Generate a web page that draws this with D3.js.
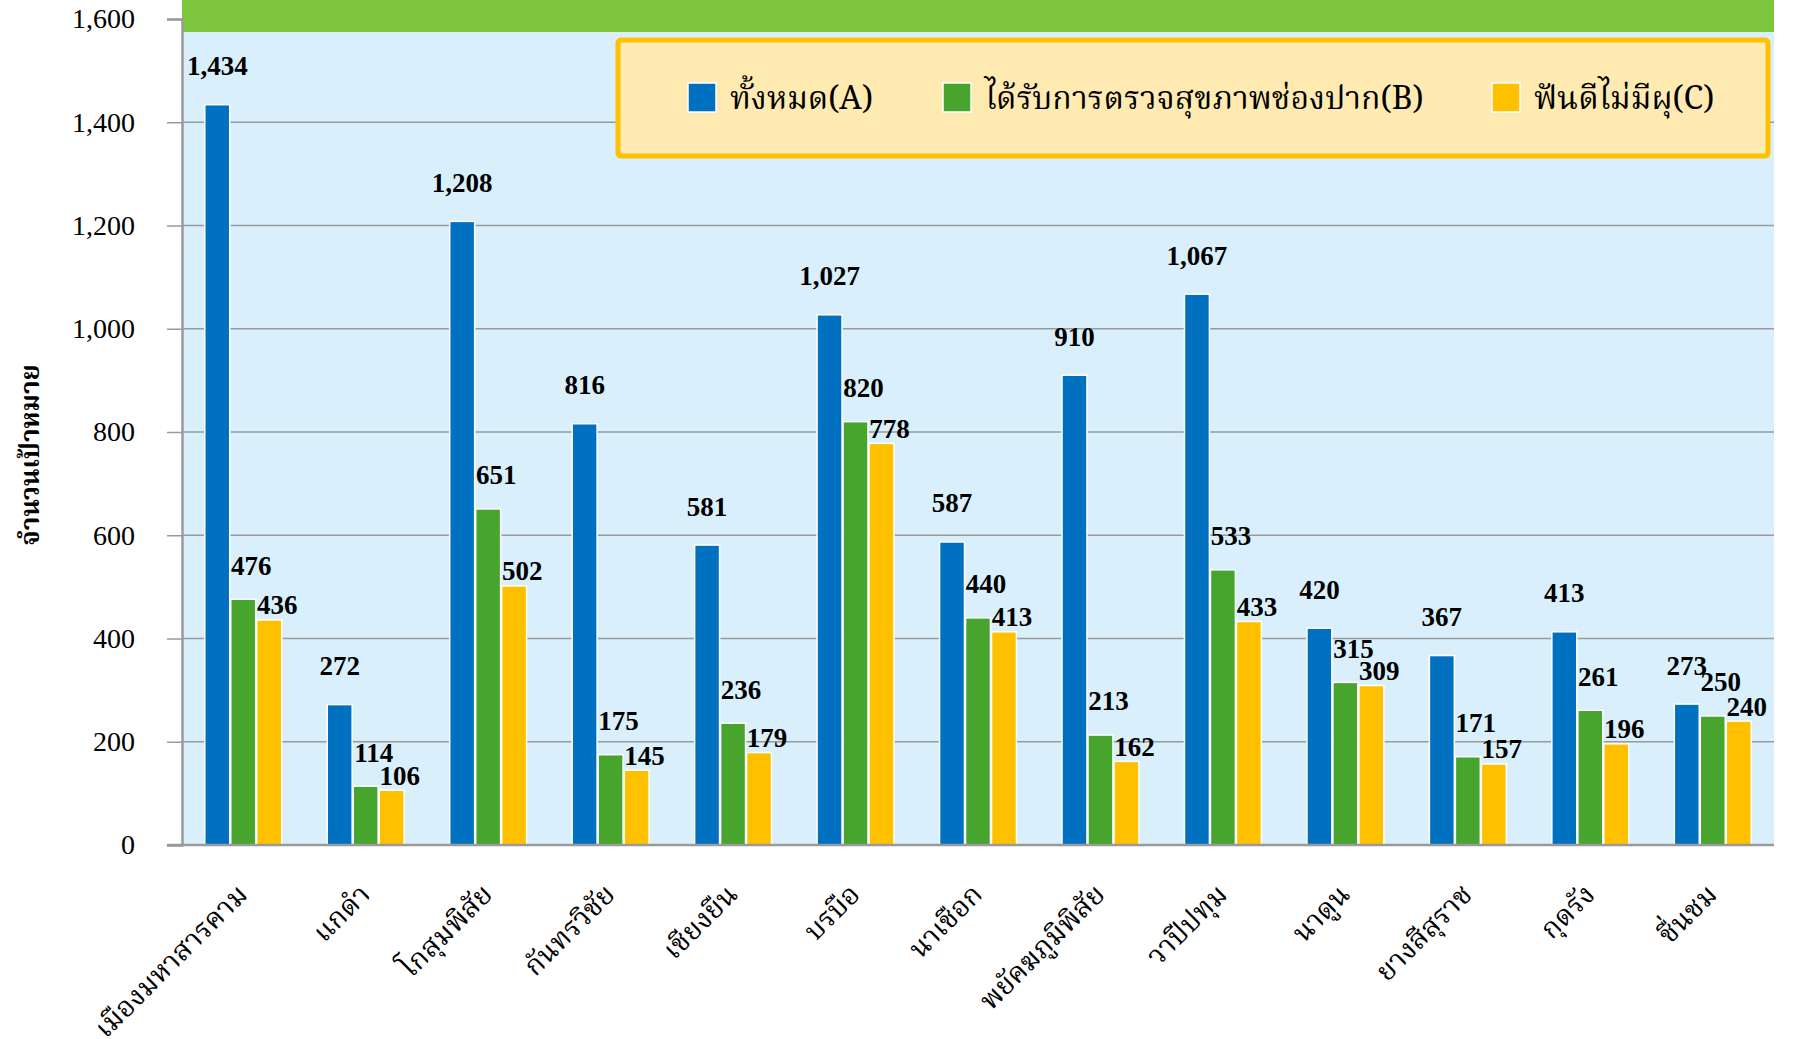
<!DOCTYPE html>
<html>
<head>
<meta charset="utf-8">
<script src="https://cdn.jsdelivr.net/npm/d3@7"></script>
<style>
body { margin: 0; background: #fff; }
svg { display: block; }
</style>
</head>
<body>
<svg></svg>
<script>
// data
var districts = ["เมืองมหาสารคาม", "แกดำ", "โกสุมพิสัย", "กันทรวิชัย", "เชียงยืน", "บรบือ", "นาเชือก", "พยัคฆภูมิพิสัย", "วาปีปทุม", "นาดูน", "ยางสีสุราช", "กุดรัง", "ชื่นชม"];
var totalA = [1434, 272, 1208, 816, 581, 1027, 587, 910, 1067, 420, 367, 413, 273];
var checkedB = [476, 114, 651, 175, 236, 820, 440, 213, 533, 315, 171, 261, 250];
var goodC = [436, 106, 502, 145, 179, 778, 413, 162, 433, 309, 157, 196, 240];
var seriesNames = ["ทั้งหมด(A)", "ได้รับการตรวจสุขภาพช่องปาก(B)", "ฟันดีไม่มีผุ(C)"];
var yTicks = [0, 200, 400, 600, 800, 1000, 1200, 1400, 1600];

var colors = ["#0070C0", "#47A52E", "#FFC000"];
var numFont = "'Liberation Serif', 'Times New Roman', serif";
var thaiFont = "'Noto Serif Thai', 'Noto Sans Thai', 'Loma', 'Norasi', 'Garuda', 'Liberation Serif', serif";

var screen = {width: 1804, height: 1039};
var plot = {left: 182, right: 1774, top: 32, bottom: 845};

var svg = d3.select("svg")
    .attr("width", screen.width)
    .attr("height", screen.height);

var rows = districts.map(function(d, i) {
    return {name: d, values: [totalA[i], checkedB[i], goodC[i]]};
});

var x0 = d3.scaleBand()
    .domain(districts)
    .range([plot.left, plot.right])
    .paddingInner(0.355)
    .paddingOuter(0.1775);

var x1 = d3.scaleBand()
    .domain([0, 1, 2])
    .range([0, x0.bandwidth()])
    .padding(0.04);

var y = d3.scaleLinear()
    .domain([0, 1600])
    .range([plot.bottom, 19]);

// plot background
svg.append("rect")
    .attr("x", plot.left)
    .attr("y", plot.top)
    .attr("width", plot.right - plot.left)
    .attr("height", plot.bottom - plot.top)
    .attr("fill", "#D9F0FC");

// grid lines
svg.append("g")
    .selectAll("line")
    .data(yTicks.slice(1))
    .enter()
    .append("line")
    .attr("x1", plot.left)
    .attr("x2", plot.right)
    .attr("y1", function(d) { return y(d); })
    .attr("y2", function(d) { return y(d); })
    .attr("stroke", "#9A9A9A")
    .attr("stroke-width", 1.5);

// green header band
svg.append("rect")
    .attr("x", plot.left)
    .attr("y", 0)
    .attr("width", plot.right - plot.left)
    .attr("height", plot.top)
    .attr("fill", "#7DC53C");

// y axis
var yAxis = d3.axisLeft(y)
    .tickValues(yTicks)
    .tickSize(15)
    .tickPadding(32)
    .tickFormat(d3.format(","));

var yg = svg.append("g")
    .attr("transform", "translate(" + plot.left + ",0)")
    .call(yAxis);
yg.select(".domain").attr("stroke", "#9A9A9A").attr("stroke-width", 2.5);
yg.selectAll(".tick line").attr("stroke", "#9A9A9A").attr("stroke-width", 1.5);
yg.selectAll(".tick text")
    .attr("font-family", numFont)
    .attr("font-size", 28)
    .attr("fill", "#000");

// bars
var groups = svg.append("g")
    .selectAll("g")
    .data(rows)
    .enter()
    .append("g")
    .attr("transform", function(d) { return "translate(" + x0(d.name) + ",0)"; });

groups.selectAll("rect")
    .data(function(d) { return d.values; })
    .enter()
    .append("rect")
    .attr("x", function(v, i) { return x1(i); })
    .attr("y", function(v) { return y(v); })
    .attr("width", x1.bandwidth())
    .attr("height", function(v) { return y(0) - y(v); })
    .attr("fill", function(v, i) { return colors[i]; })
    .attr("stroke", "#fff")
    .attr("stroke-width", 1.5);

// value labels
var labelLift = [39, 34, 15];
var labelShift = [0, 8, 8];
groups.selectAll("text")
    .data(function(d) { return d.values; })
    .enter()
    .append("text")
    .attr("x", function(v, i) { return x1(i) + x1.bandwidth() / 2 + labelShift[i]; })
    .attr("y", function(v, i) { return y(v) - labelLift[i]; })
    .attr("dy", "0.35em")
    .attr("text-anchor", "middle")
    .attr("font-family", numFont)
    .attr("font-weight", "bold")
    .attr("font-size", 27)
    .text(function(v) { return d3.format(",")(v); });

// x axis line
svg.append("line")
    .attr("x1", plot.left - 15)
    .attr("x2", plot.right)
    .attr("y1", plot.bottom)
    .attr("y2", plot.bottom)
    .attr("stroke", "#9A9A9A")
    .attr("stroke-width", 2.5);

// x labels, rotated
svg.append("g")
    .selectAll("text")
    .data(districts)
    .enter()
    .append("text")
    .attr("transform", function(d) {
        return "translate(" + (x0(d) + x0.bandwidth() / 2 + 6) + ",896) rotate(-45)";
    })
    .attr("text-anchor", "end")
    .attr("font-family", thaiFont)
    .attr("font-size", 28)
    .text(function(d) { return d; });

// y title
svg.append("text")
    .attr("transform", "translate(39,455) rotate(-90)")
    .attr("text-anchor", "middle")
    .attr("font-family", thaiFont)
    .attr("font-weight", "bold")
    .attr("font-size", 26)
    .text("จำนวนเป้าหมาย");

// legend
var legend = svg.append("g");
legend.append("rect")
    .attr("x", 618)
    .attr("y", 40)
    .attr("width", 1150)
    .attr("height", 116)
    .attr("rx", 3)
    .attr("fill", "#FFEBB2")
    .attr("stroke", "#FFC000")
    .attr("stroke-width", 5);

var legendX = [688, 943, 1492];
var items = legend.selectAll("g.item")
    .data(seriesNames)
    .enter()
    .append("g")
    .attr("class", "item")
    .attr("transform", function(d, i) { return "translate(" + legendX[i] + ",83)"; });

items.append("rect")
    .attr("width", 28)
    .attr("height", 29)
    .attr("fill", function(d, i) { return colors[i]; })
    .attr("stroke", "#fff")
    .attr("stroke-width", 1.5);

items.append("text")
    .attr("x", 42)
    .attr("y", 15)
    .attr("dy", "0.35em")
    .attr("font-family", thaiFont)
    .attr("font-size", 32)
    .text(function(d) { return d; });
</script>
</body>
</html>
